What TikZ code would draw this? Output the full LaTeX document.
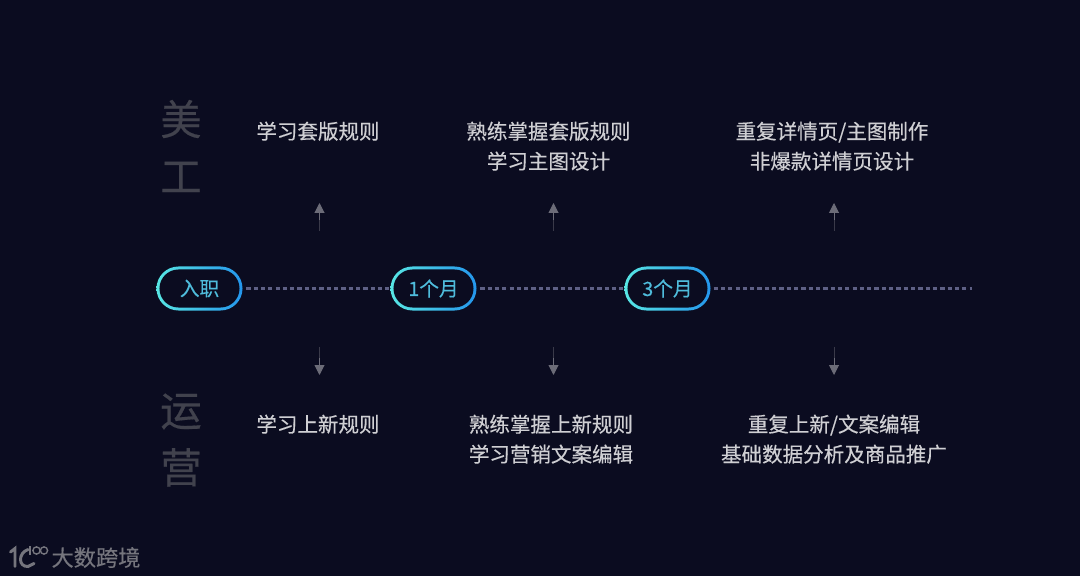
\documentclass[tikz,border=0pt]{standalone}
\usepackage{fontspec}
\usepackage{tikz}
\usetikzlibrary{arrows.meta,positioning,shapes.misc}
\newfontfamily\cjk[FakeBold=0.35]{Noto Sans CJK SC}
\definecolor{pagedark}{HTML}{0B0C20}
\definecolor{bodygray}{HTML}{CFCFD3}
\definecolor{headgray}{HTML}{41424D}
\definecolor{arrowgray}{HTML}{6C6C78}
\definecolor{arrowdim}{HTML}{3A3A49}
\definecolor{dashgray}{HTML}{5E6085}
\definecolor{pillcyan}{HTML}{58E6E4}
\definecolor{pillblue}{HTML}{2496EC}
\definecolor{pilltext}{HTML}{4FBCDC}
\definecolor{logogray}{HTML}{75757D}
\tikzset{
  bodytext/.style={text=bodygray, align=center, inner sep=0pt,
    font=\cjk\fontsize{14.6}{21.3}\selectfont},
  headtext/.style={text=headgray, align=center, inner sep=0pt,
    font=\cjk\fontsize{29.5}{40.5}\selectfont},
  pillring/.style={shape=rounded rectangle, left color=pillcyan, right color=pillblue,
    minimum width=2.15cm, minimum height=1.1cm, inner sep=0pt},
  pillface/.style={shape=rounded rectangle, fill=pagedark, text=pilltext,
    minimum width=2cm, minimum height=0.95cm, inner sep=0pt,
    font=\cjk\fontsize{14}{16}\selectfont},
  timeline/.style={dashgray, line width=1.6pt, dash pattern=on 3pt off 2.2pt},
  stagearrow/.style={arrowgray, line width=0.7pt, -{Triangle[width=7pt,length=7pt]}},
  arrowtail/.style={arrowdim, line width=0.7pt},
  logostroke/.style={logogray, line width=2.1pt, line cap=round},
}
\begin{document}
\begin{tikzpicture}[x=0.025cm, y=-0.025cm]
  \fill[pagedark] (0,0) rectangle (1080,576);
  \useasboundingbox (0,0) rectangle (1080,576);

  % side headings
  \node[headtext] (design) at (181,146) {美\\工};
  \node[headtext] (ops) at (181,440) {运\\营};

  % timeline
  \node[pillring] (join) at (199.5,288.5) {};
  \node[pillring] (monthone) at (433.5,288.5) {};
  \node[pillring] (monththree) at (667.5,288.5) {};
  \coordinate (lineend) at (972,288.5);
  \draw[timeline] ([xshift=2.5pt]join.east) -- (monthone.west);
  \draw[timeline] ([xshift=2.5pt]monthone.east) -- (monththree.west);
  \draw[timeline] ([xshift=2pt]monththree.east) -- (lineend);
  \node[pillface] at (join) {入职};
  \node[pillface] at (monthone) {1个月};
  \node[pillface] at (monththree) {3个月};

  % upper row
  \node[bodytext] (designa) at (318,131.2) {学习套版规则};
  \node[bodytext] (designb) at (548.5,146.2) {熟练掌握套版规则\\学习主图设计};
  \node[bodytext] (designc) at (832,146.2) {重复详情页/主图制作\\非爆款详情页设计};

  % lower row
  \node[bodytext] (opsa) at (318,424.2) {学习上新规则};
  \node[bodytext] (opsb) at (551,439.2) {熟练掌握上新规则\\学习营销文案编辑};
  \node[bodytext] (opsc) at (834,439.2) {重复上新/文案编辑\\基础数据分析及商品推广};

  % arrows
  \foreach \xpos/\tag in {319.5/a,553.5/b,834/c}{
    \coordinate (upfrom\tag) at (\xpos,231);
    \coordinate (upmid\tag) at (\xpos,220);
    \coordinate (upto\tag) at (\xpos,203);
    \coordinate (downfrom\tag) at (\xpos,347);
    \coordinate (downmid\tag) at (\xpos,358);
    \coordinate (downto\tag) at (\xpos,375);
    \draw[stagearrow] (upfrom\tag) -- (upto\tag);
    \draw[stagearrow] (downfrom\tag) -- (downto\tag);
    \draw[arrowtail] (upfrom\tag) -- (upmid\tag);
    \draw[arrowtail] (downfrom\tag) -- (downmid\tag);
  }

  % logo
  \draw[logostroke] (10.5,552) -- (15,548.5) -- (15,566.5);
  \draw[logostroke] (28,549.5) .. controls (18,553) and (18,567) .. (28,566.5) -- (34,563.5);
  \draw[logogray, line width=1pt] (30,546.5) -- (30,555);
  \draw[logogray, line width=1pt] (36.5,550.5) circle (3.6);
  \draw[logogray, line width=1pt] (44,550.5) circle (3.6);
  \node[text=logogray, inner sep=0pt, font=\cjk\fontsize{15.8}{18}\selectfont] (brand) at (96,557.5) {大数跨境};
\end{tikzpicture}
\end{document}
